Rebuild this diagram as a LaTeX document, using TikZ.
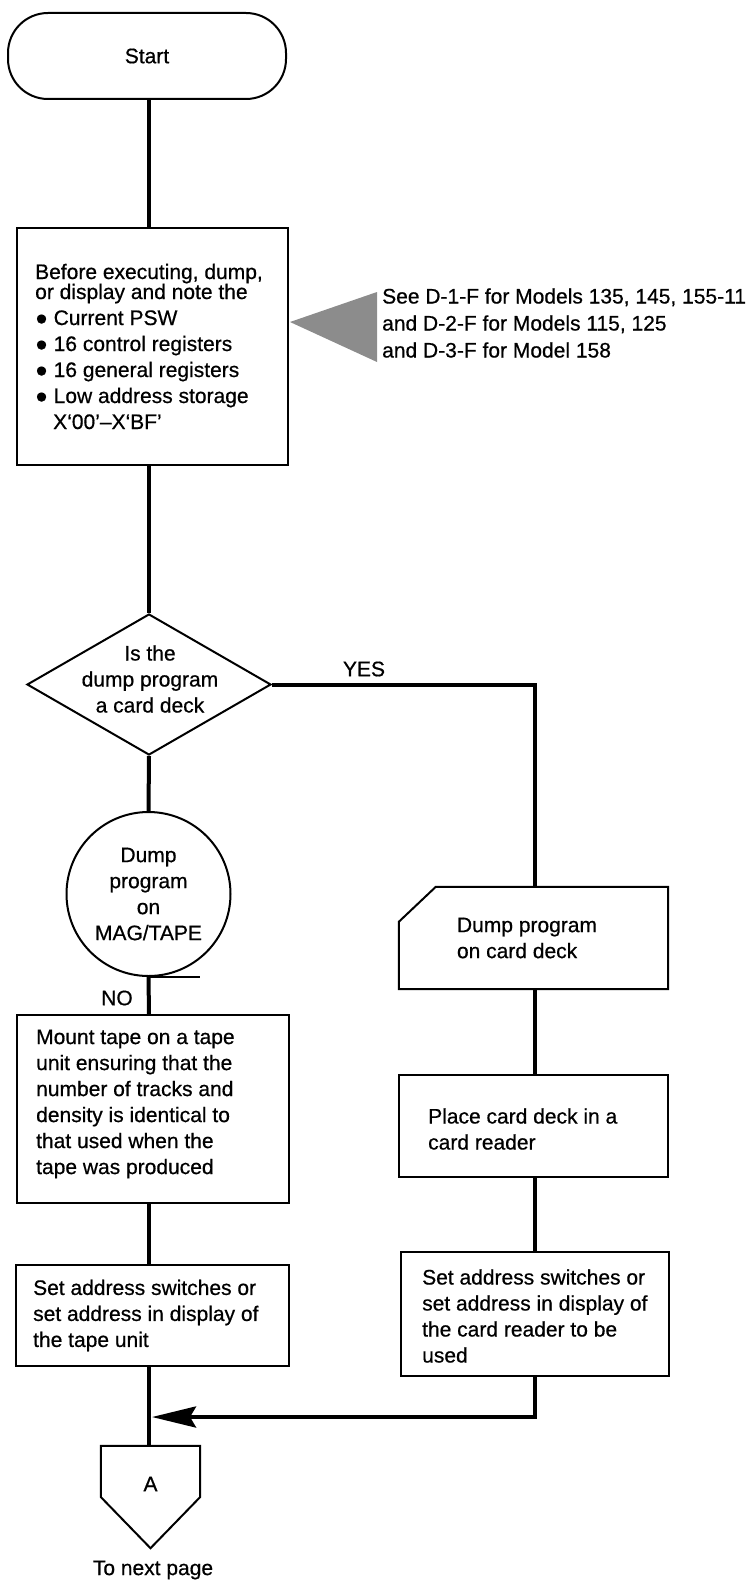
\documentclass[tikz,border=0pt]{standalone}
\usepackage{fontspec}
\setmainfont{Liberation Sans}[FakeBold=0.6]
\usetikzlibrary{shapes.geometric,arrows.meta}
\begin{document}
\begin{tikzpicture}[x=1pt,y=-1pt,
  every node/.style={font=\fontsize{21}{26}\selectfont, inner sep=0pt},
  outline/.style={draw=black, line width=2pt},
  conn/.style={draw=black, line width=4pt},
  procbox/.style={outline, rectangle},
  txt/.style={align=left, anchor=west}]
\useasboundingbox (0,0) rectangle (746,1581);
\coordinate (spine) at (149,0);
\coordinate (rspine) at (535,0);

% left column
\node[outline, rounded corners=40pt, minimum width=278pt, minimum height=86pt] (start) at (147,56) {Start};

\node[procbox, minimum width=271pt, minimum height=237pt] (box1) at (152.5,346.5) {};
\node[txt] (box1t) at ([xshift=19pt]box1.west) {Before executing, dump,\\[-6pt]
or display and note the\\
● Current PSW\\
● 16 control registers\\
● 16 general registers\\
● Low address storage\\
\hspace*{18pt}X‘00’–X‘BF’};

\node[diamond, outline, minimum width=244pt, minimum height=141pt, aspect=1.73] (dec) at (149,684.5) {};
\node[align=center] (dect) at (150,679) {Is the\\dump program\\a card deck};

\node[circle, outline, minimum size=164pt, align=center] (tape) at (148.5,894) {Dump\\program\\on\\MAG/TAPE};
\draw[line width=2.5pt] (tape.south) -- ++(51,0);

\node (nolab) at (117,998) {NO};
\node (yeslab) at (364,669) {YES};

\node[procbox, minimum width=272pt, minimum height=188pt] (mount) at (153,1109) {};
\node[txt] (mountt) at ([xshift=20pt,yshift=5pt]mount.west) {Mount tape on a tape\\unit ensuring that the\\number of tracks and\\density is identical to\\that used when the\\tape was produced};

\node[procbox, minimum width=273pt, minimum height=101pt] (lset) at (152.5,1315.5) {};
\node[txt] (lsett) at ([xshift=18pt]lset.west) {Set address switches or\\set address in display of\\the tape unit};

\node[minimum width=99pt, minimum height=102pt] (offp) at (150.5,1497) {};
\draw[outline] (offp.north west) -- (offp.north east) -- (offp.east) -- (offp.south) -- (offp.west) -- cycle;
\node (alab) at (150.5,1484) {A};
\node (nextp) at (153,1570) {To next page};

% right column
\node[minimum width=269pt, minimum height=102pt] (card) at (533.5,938) {};
\draw[outline] ([xshift=37pt]card.north west) -- (card.north east) -- (card.south east) -- (card.south west) -- ([yshift=-35pt]card.north west) -- cycle;
\node[txt] (cardt) at ([xshift=58pt]card.west) {Dump program\\on card deck};

\node[procbox, minimum width=269pt, minimum height=102pt] (place) at (533.5,1126) {};
\node[txt] (placet) at ([xshift=30pt,yshift=-3pt]place.west) {Place card deck in a\\card reader};

\node[procbox, minimum width=268pt, minimum height=124pt] (rset) at (535,1314) {};
\node[txt] (rsett) at ([xshift=22pt,yshift=-2pt]rset.west) {Set address switches or\\set address in display of\\the card reader to be\\used};

% annotation
\fill[black!45] (290,322) -- (377,292) -- (377,362) -- cycle;
\node[txt, font=\fontsize{21}{27}\selectfont] (note) at (382,323) {See D-1-F for Models 135, 145, 155-11\\and D-2-F for Models 115, 125\\and D-3-F for Model 158};

% connectors
\draw[conn] (spine |- start.south) -- (spine |- box1.north);
\draw[conn] (spine |- box1.south) -- (dec.north);
\draw[conn] (dec.south) -- (tape.north);
\draw[conn] (tape.south) -- (spine |- mount.north);
\draw[conn] (spine |- mount.south) -- (spine |- lset.north);
\draw[conn] (spine |- lset.south) -- (spine |- offp.north);
\draw[conn] (dec.east) -- (rspine |- dec.east) -- (rspine |- card.north);
\draw[conn] (rspine |- card.south) -- (rspine |- place.north);
\draw[conn] (rspine |- place.south) -- (rspine |- rset.north);
\coordinate (merge) at (152,1417);
\draw[conn, -{Stealth[length=44pt,width=21pt,inset=6pt]}] (rspine |- rset.south) -- (rspine |- merge) -- (merge);
\end{tikzpicture}
\end{document}
